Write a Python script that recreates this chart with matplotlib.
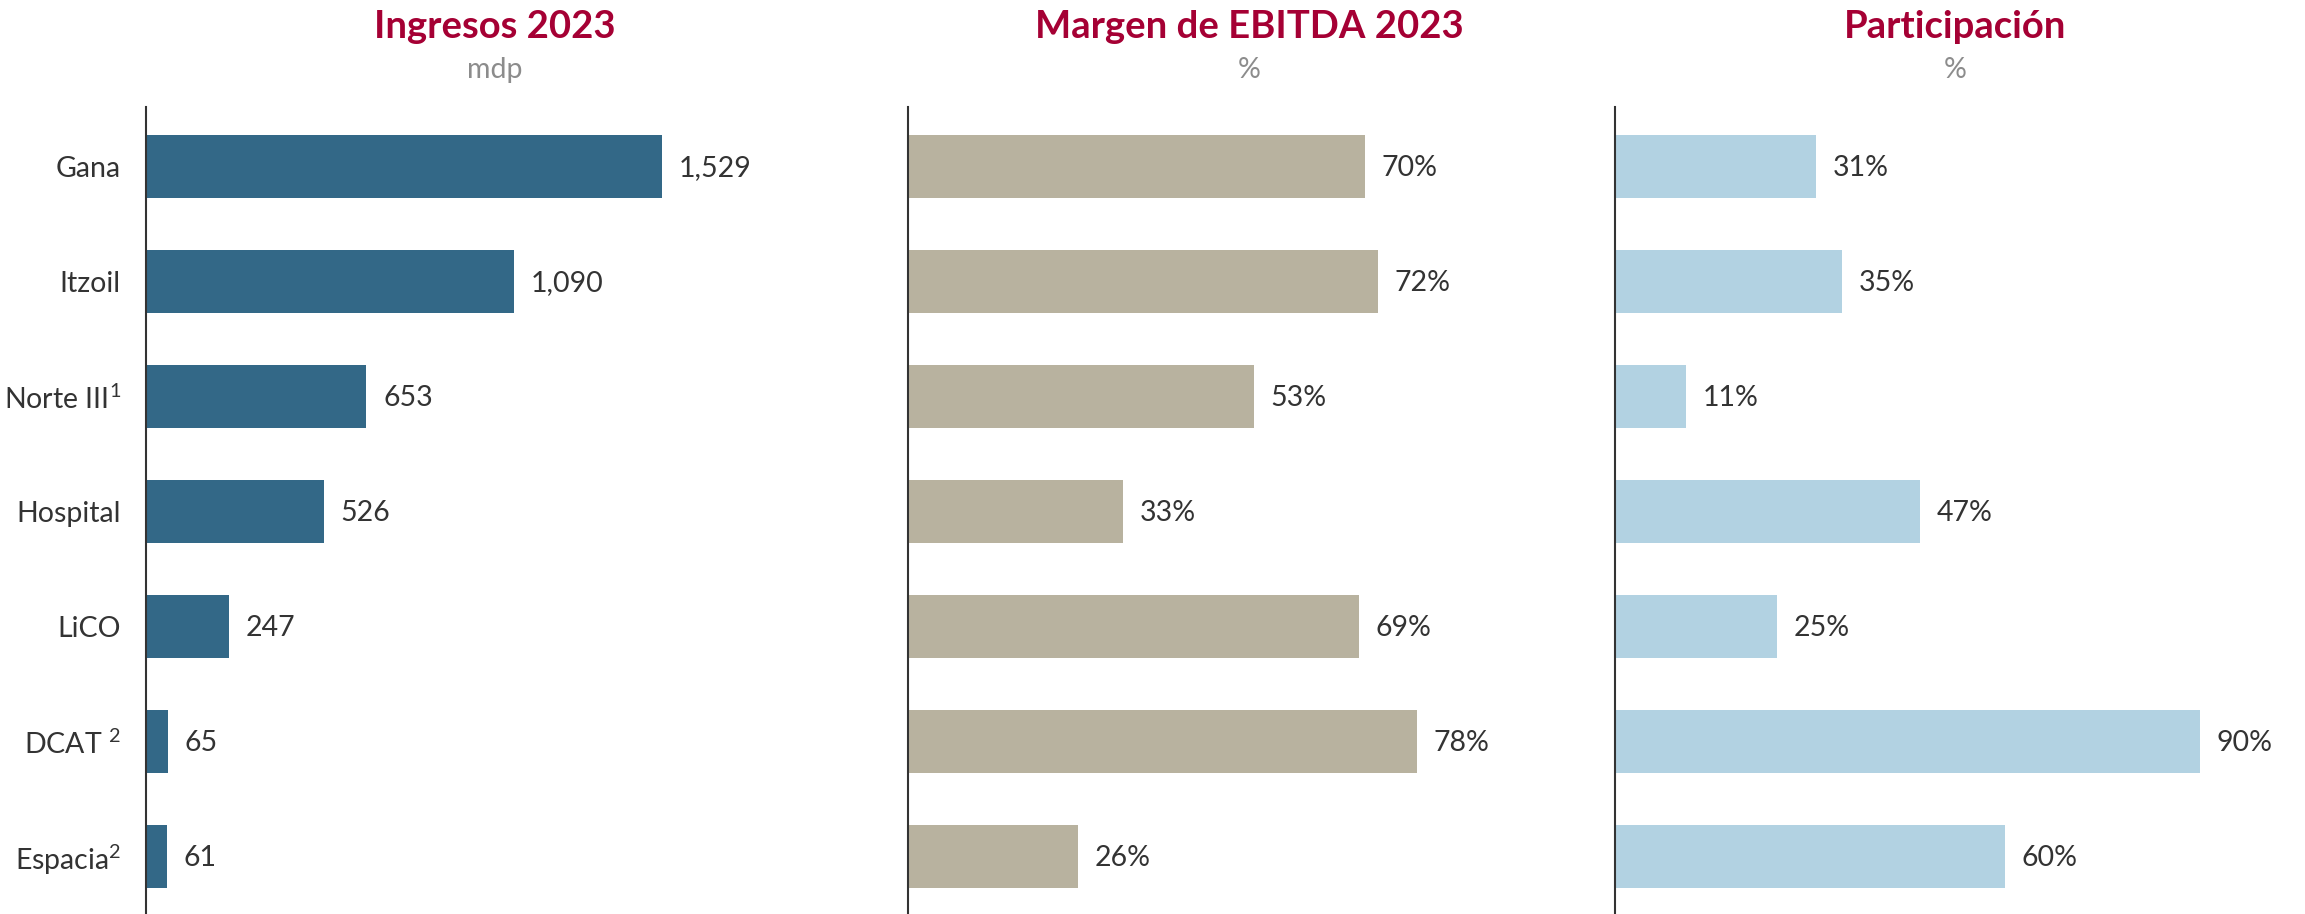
import matplotlib
matplotlib.use("Agg")
import matplotlib.pyplot as plt

plt.rcParams['font.family'] = ['Lato', 'DejaVu Sans']
plt.rcParams['mathtext.fontset'] = 'custom'
plt.rcParams['mathtext.rm'] = 'Lato'
plt.rcParams['mathtext.it'] = 'Lato'

categories = ["Gana", "Itzoil", "Norte III$^{1}$", "Hospital", "LiCO", "DCAT $^{2}$", "Espacia$^{2}$"]
ingresos = [1529, 1090, 653, 526, 247, 65, 61]
margen = [70, 72, 53, 33, 69, 78, 26]
participacion = [31, 35, 11, 47, 25, 90, 60]

titles = ["Ingresos 2023", "Margen de EBITDA 2023", "Participación"]
subtitles = ["mdp", "%", "%"]

W, H = 2305, 914
fig = plt.figure(figsize=(W / 100, H / 100), dpi=100)

panels = [
    dict(vals=ingresos, color="#336887", left=146, width=700, xmax=2074, fmt="{:,.0f}", tx=495),
    dict(vals=margen, color="#B8B29F", left=908, width=700, xmax=107.2, fmt="{:.0f}%", tx=1249),
    dict(vals=participacion, color="#B2D2E2", left=1615, width=690, xmax=106.2, fmt="{:.0f}%", tx=1955),
]

top_px = 107
for i, p in enumerate(panels):
    ax = fig.add_axes([p["left"] / W, 0, p["width"] / W, 1 - top_px / H])
    ypos = list(range(len(categories)))
    ax.barh(ypos, p["vals"], height=0.55, color=p["color"])
    ax.set_ylim(6.5, -0.52)
    ax.set_xlim(0, p["xmax"])
    for y, v in zip(ypos, p["vals"]):
        ax.annotate(p["fmt"].format(v), xy=(v, y), xytext=(12, -1), textcoords="offset points",
                    va="center", ha="left", fontsize=20.5, color="#333333")
    for s in ["top", "right", "bottom"]:
        ax.spines[s].set_visible(False)
    ax.spines["left"].set_color("#333333")
    ax.spines["left"].set_linewidth(1.5)
    ax.set_xticks([])
    if i == 0:
        ax.set_yticks(ypos)
        ax.set_yticklabels(categories, fontsize=20.5, color="#333333")
        ax.tick_params(axis="y", length=0, pad=18)
    else:
        ax.set_yticks([])
    fig.text(p["tx"] / W, 1 - 27 / H, titles[i], ha="center", va="center",
             fontsize=27.5, fontweight="bold", color="#A50034")
    fig.text(p["tx"] / W, 1 - 70 / H, subtitles[i], ha="center", va="center",
             fontsize=20.5, color="#8C8C8C")

fig.savefig("out.png", dpi=100, facecolor="white")
